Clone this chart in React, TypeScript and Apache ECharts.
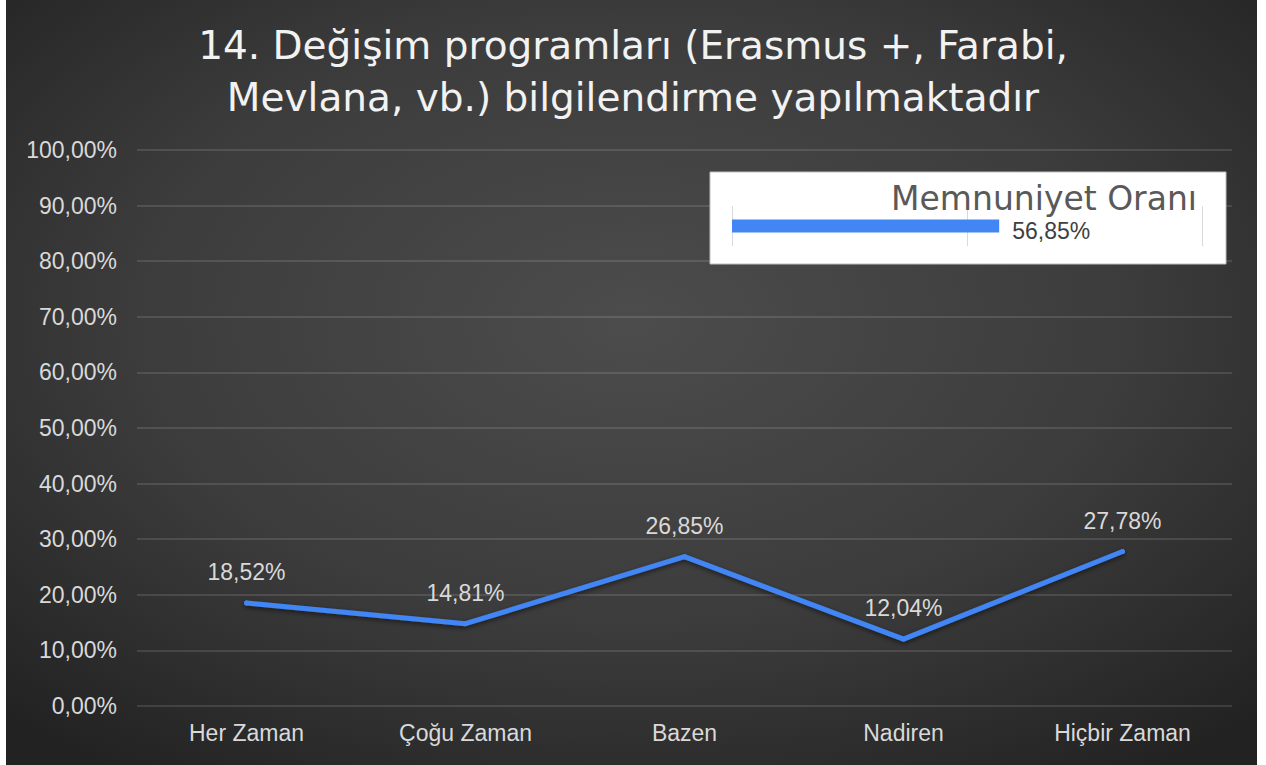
import React, { useEffect, useRef } from "react";
import * as echarts from "echarts";

const titleText = "14. Değişim programları (Erasmus +, Farabi,\nMevlana, vb.) bilgilendirme yapılmaktadır";
const categories = ["Her Zaman", "Çoğu Zaman", "Bazen", "Nadiren", "Hiçbir Zaman"];
const values = [18.52, 14.81, 26.85, 12.04, 27.78];
const insetTitle = "Memnuniyet Oranı";
const insetCategory = ["Memnuniyet Oranı"];
const insetValues = [56.85];

const fmt = (v: number) => v.toFixed(2).replace(".", ",") + "%";

export default function App() {
  const ref = useRef<HTMLDivElement>(null);
  useEffect(() => {
    if (!ref.current) return;
    const chart = echarts.init(ref.current, undefined, { renderer: "svg" });
    chart.setOption({
      animation: false,
      backgroundColor: "#ffffff",
      title: {
        text: titleText,
        left: "center",
        top: 14,
        textStyle: {
          fontFamily: "DejaVu Sans",
          fontSize: 39,
          fontWeight: "normal",
          color: "#f2f2f2",
          lineHeight: 52,
        },
      },
      graphic: [
        {
          type: "rect",
          z: -10,
          silent: true,
          shape: { x: 6, y: 0, width: 1251, height: 765 },
          style: {
            fill: {
              type: "radial",
              x: 0.5,
              y: 0.42,
              r: 0.72,
              colorStops: [
                { offset: 0, color: "#4c4c4c" },
                { offset: 0.55, color: "#3c3c3c" },
                { offset: 1, color: "#222222" },
              ],
            },
          },
        },
        {
          type: "rect",
          z: 1,
          silent: true,
          shape: { x: 710, y: 172, width: 516, height: 92 },
          style: { fill: "#ffffff", stroke: "#bfbfbf", lineWidth: 1 },
        },
        {
          type: "text",
          z: 5,
          silent: true,
          x: 1197,
          y: 198,
          style: {
            text: insetTitle,
            fontFamily: "DejaVu Sans",
            fontSize: 33,
            fill: "#595959",
            align: "right",
            verticalAlign: "middle",
          },
        },
      ],
      grid: [
        { left: 137, right: 34, top: 150, bottom: 59 },
        { left: 732, width: 470, top: 206, height: 40 },
      ],
      xAxis: [
        {
          type: "category",
          gridIndex: 0,
          data: categories,
          axisLine: { show: false },
          axisTick: { show: false },
          axisLabel: {
            color: "#d9d9d9",
            fontSize: 23,
            fontFamily: "Liberation Sans",
            margin: 15,
          },
        },
        {
          type: "value",
          gridIndex: 1,
          min: 0,
          max: 100,
          interval: 50,
          z: 3,
          axisLine: { show: false },
          axisTick: { show: false },
          axisLabel: { show: false },
          splitLine: { show: true, lineStyle: { color: "#d9d9d9", width: 1 } },
        },
      ],
      yAxis: [
        {
          type: "value",
          gridIndex: 0,
          min: 0,
          max: 100,
          interval: 10,
          axisLine: { show: false },
          axisTick: { show: false },
          axisLabel: {
            color: "#d9d9d9",
            fontSize: 23,
            fontFamily: "Liberation Sans",
            margin: 20,
            formatter: (v: number) => fmt(v),
          },
          splitLine: { lineStyle: { color: "rgba(255,255,255,0.16)", width: 1.5 } },
        },
        {
          type: "category",
          gridIndex: 1,
          data: insetCategory,
          show: false,
        },
      ],
      series: [
        {
          type: "line",
          xAxisIndex: 0,
          yAxisIndex: 0,
          data: values,
          symbol: "circle",
          symbolSize: 5,
          itemStyle: { color: "#4285f4" },
          lineStyle: {
            color: "#4285f4",
            width: 5,
            cap: "round",
            join: "round",
            shadowColor: "rgba(0,0,0,0.55)",
            shadowBlur: 5,
            shadowOffsetY: 2,
          },
          label: {
            show: true,
            position: "top",
            distance: 17,
            color: "#d9d9d9",
            fontSize: 23,
            fontFamily: "Liberation Sans",
            formatter: (p: any) => fmt(p.value),
          },
        },
        {
          type: "bar",
          xAxisIndex: 1,
          yAxisIndex: 1,
          data: insetValues,
          barWidth: 13,
          z: 4,
          itemStyle: { color: "#4285f4" },
          label: {
            show: true,
            position: "right",
            distance: 13,
            offset: [0, 5],
            color: "#404040",
            fontSize: 23,
            fontFamily: "Liberation Sans",
            formatter: (p: any) => fmt(p.value),
          },
        },
      ],
    });
    return () => chart.dispose();
  }, []);
  return (
    <div
      ref={ref}
      style={{ position: "absolute", left: 0, top: 0, width: 1266, height: 765 }}
    />
  );
}
